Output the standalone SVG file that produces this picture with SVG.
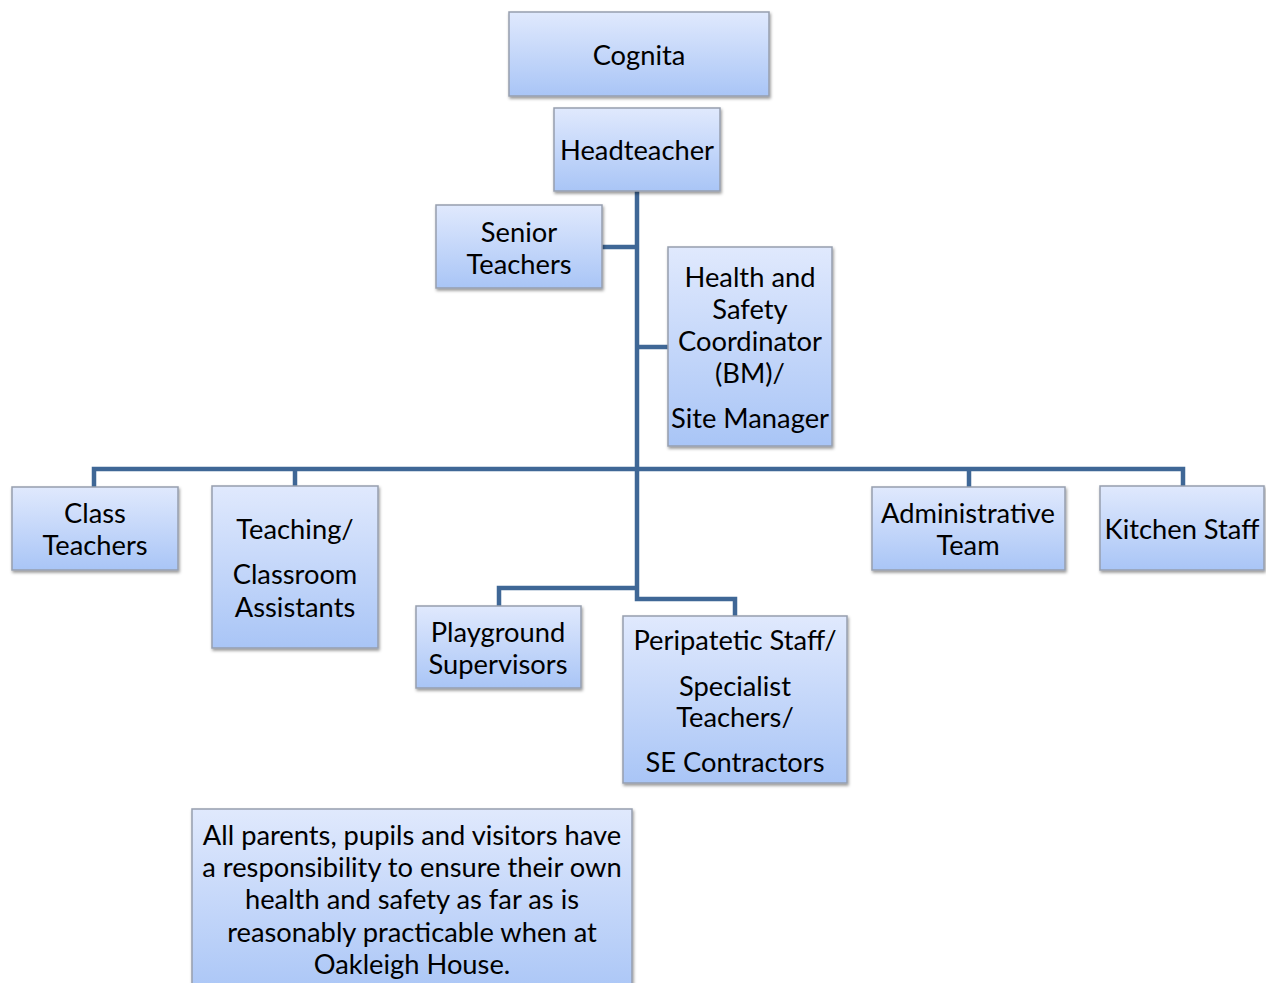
<svg xmlns="http://www.w3.org/2000/svg" width="1266" height="983" viewBox="0 0 1266 983">
<defs>
<linearGradient id="g" x1="0" y1="0" x2="0" y2="1">
<stop offset="0" stop-color="#e0e9fd"/>
<stop offset="1" stop-color="#a9c5f6"/>
</linearGradient>
<filter id="sh" x="-10%" y="-10%" width="125%" height="125%">
<feDropShadow dx="1" dy="2" stdDeviation="1.5" flood-color="#000" flood-opacity="0.4"/>
</filter>
</defs>
<style>
.box{fill:url(#g);stroke:#969eae;stroke-width:1.5;filter:url(#sh)}
.t{font-family:Lato,"Open Sans","Liberation Sans",sans-serif;font-size:27.3px;fill:#000;text-anchor:middle;dominant-baseline:central}
.c{fill:none;stroke:#3f6796;stroke-width:4.5;stroke-linejoin:miter}
</style>
<rect width="1266" height="983" fill="#fff"/>
<g id="connectors">
<path class="c" d="M637 191 V599 H735 V616"/>
<path class="c" d="M637 588 H499 V606"/>
<path class="c" d="M602 247 H637"/>
<path class="c" d="M637 347 H668"/>
<path class="c" d="M94 487 V469 H1183 V486"/>
<path class="c" d="M295 469 V486"/>
<path class="c" d="M969 469 V487"/>
</g>
<g id="cognita"><rect class="box" x="509" y="12" width="260" height="84"/><text class="t" x="639" y="54">Cognita</text></g>
<g id="headteacher"><rect class="box" x="554" y="108" width="166" height="83"/><text class="t" x="637" y="149">Headteacher</text></g>
<g id="senior"><rect class="box" x="436" y="205" width="166" height="83"/><text class="t" x="519" y="231">Senior</text><text class="t" x="519" y="263">Teachers</text></g>
<g id="hs"><rect class="box" x="668" y="247" width="164" height="199"/><text class="t" x="750" y="276">Health and</text><text class="t" x="750" y="308">Safety</text><text class="t" x="750" y="340">Coordinator</text><text class="t" x="750" y="372">(BM)/</text><text class="t" x="750" y="417">Site Manager</text></g>
<g id="class"><rect class="box" x="12" y="487" width="166" height="83"/><text class="t" x="95" y="512">Class</text><text class="t" x="95" y="544">Teachers</text></g>
<g id="ta"><rect class="box" x="212" y="486" width="166" height="162"/><text class="t" x="295" y="528">Teaching/</text><text class="t" x="295" y="573">Classroom</text><text class="t" x="295" y="606">Assistants</text></g>
<g id="admin"><rect class="box" x="872" y="487" width="193" height="83"/><text class="t" x="968" y="512">Administrative</text><text class="t" x="968" y="544">Team</text></g>
<g id="kitchen"><rect class="box" x="1100" y="486" width="164" height="84"/><text class="t" x="1182" y="528">Kitchen Staff</text></g>
<g id="playground"><rect class="box" x="416" y="606" width="165" height="82"/><text class="t" x="498" y="631">Playground</text><text class="t" x="498" y="663">Supervisors</text></g>
<g id="peripatetic"><rect class="box" x="623" y="616" width="224" height="167"/><text class="t" x="735" y="639">Peripatetic Staff/</text><text class="t" x="735" y="685">Specialist</text><text class="t" x="735" y="716">Teachers/</text><text class="t" x="735" y="761">SE Contractors</text></g>
<g id="note"><rect class="box" x="192" y="809" width="440" height="190"/><text class="t" x="412" y="834">All parents, pupils and visitors have</text><text class="t" x="412" y="866">a responsibility to ensure their own</text><text class="t" x="412" y="898">health and safety as far as is</text><text class="t" x="412" y="931">reasonably practicable when at</text><text class="t" x="412" y="963">Oakleigh House.</text></g>
</svg>
